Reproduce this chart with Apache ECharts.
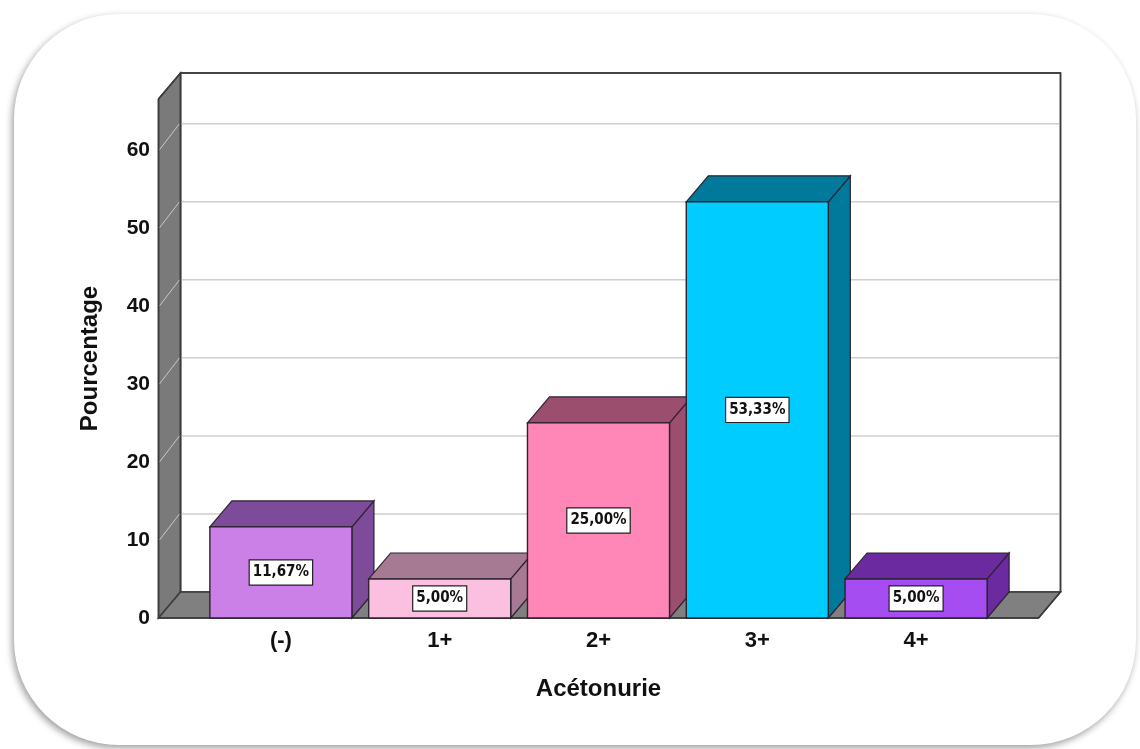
<!DOCTYPE html>
<html><head><meta charset="utf-8">
<script src="https://cdn.jsdelivr.net/npm/echarts@6/dist/echarts.min.js"></script>
<style>
html,body{margin:0;padding:0;background:#fff;width:1140px;height:749px;overflow:hidden;}
#frame{position:absolute;left:14px;top:14px;width:1122px;height:731px;border-radius:105px;background:#fff;box-shadow:-2px 3px 7px rgba(0,0,0,0.38);}
#chart{position:absolute;left:0;top:0;width:1140px;height:749px;}
</style></head><body>
<div id="frame"></div><div id="chart"></div>
<script>
// Categories and percentages
const categories = ['(-)', '1+', '2+', '3+', '4+'];
const percentages = [11.67, 5.00, 25.00, 53.33, 5.00];
const yTicks = [0, 10, 20, 30, 40, 50, 60];

// Palette: front face and shaded (top/side) face per bar
const frontColors = ['#cb80e8', '#fbc0e0', '#ff87b8', '#00ccff', '#a64df2'];
const shadeColors = ['#7d4b99', '#a57a92', '#9c4e6e', '#00799a', '#6b2aa0'];

// 3D depth offset and layout constants
const DX = 22, DY = -26;
const EXT = 43;            // walls extend past the category bands
const BAR_RATIO = 142 / 158.75;
const FONT = "'Liberation Sans', Arial, sans-serif";
const LABEL_FONT = "'Liberation Sans Narrow', 'DejaVu Sans Condensed', 'Liberation Sans', sans-serif";

function fmtPct(v) { return v.toFixed(2).replace('.', ',') + '%'; }

function renderWalls(params, api) {
  const cs = params.coordSys;
  const fl = cs.x - EXT, fr = cs.x + cs.width + EXT;
  const yTop = cs.y, yBase = cs.y + cs.height;
  const edge = '#3a3a3a';
  const children = [];
  // back wall
  children.push({type: 'polygon', shape: {points: [[fl + DX, yTop + DY], [fr + DX, yTop + DY], [fr + DX, yBase + DY], [fl + DX, yBase + DY]]},
    style: {fill: '#ffffff', stroke: edge, lineWidth: 1.5}});
  // left wall
  children.push({type: 'polygon', shape: {points: [[fl, yTop], [fl + DX, yTop + DY], [fl + DX, yBase + DY], [fl, yBase]]},
    style: {fill: '#7a7a7a', stroke: edge, lineWidth: 1.5}});
  // floor
  children.push({type: 'polygon', shape: {points: [[fl, yBase], [fl + DX, yBase + DY], [fr + DX, yBase + DY], [fr, yBase]]},
    style: {fill: '#808080', stroke: edge, lineWidth: 1.5}});
  // grid lines
  yTicks.forEach(function (t) {
    if (t === 0) return;
    const y = api.coord([0, t])[1];
    children.push({type: 'line', shape: {x1: fl + DX + 1, y1: y + DY, x2: fr + DX - 1, y2: y + DY}, style: {stroke: '#cfcfcf', lineWidth: 1.5}});
    children.push({type: 'line', shape: {x1: fl + 1, y1: y, x2: fl + DX - 1, y2: y + DY}, style: {stroke: '#c8c8c8', lineWidth: 1}});
  });
  // wall edges drawn over the grid lines
  children.push({type: 'polyline', shape: {points: [[fl, yTop], [fl + DX, yTop + DY], [fr + DX, yTop + DY], [fr + DX, yBase + DY], [fr, yBase], [fl, yBase], [fl, yTop]]},
    style: {fill: null, stroke: edge, lineWidth: 1.5}});
  children.push({type: 'line', shape: {x1: fl + DX, y1: yTop + DY, x2: fl + DX, y2: yBase + DY}, style: {stroke: edge, lineWidth: 1.5}});
  return {type: 'group', children: children};
}

function renderBar(params, api) {
  const i = api.value(0), v = api.value(1);
  const top = api.coord([i, v]);
  const base = api.coord([i, 0]);
  const band = api.size([1, 0])[0];
  const w = band * BAR_RATIO;
  const x0 = top[0] - w / 2, x1 = top[0] + w / 2, yT = top[1], yB = base[1];
  const front = frontColors[i], shade = shadeColors[i];
  const stroke = '#2b2330';
  return {type: 'group', children: [
    {type: 'polygon', shape: {points: [[x1, yT], [x1 + DX, yT + DY], [x1 + DX, yB + DY], [x1, yB]]}, style: {fill: shade, stroke: stroke, lineWidth: 1.2}},
    {type: 'polygon', shape: {points: [[x0, yT], [x0 + DX, yT + DY], [x1 + DX, yT + DY], [x1, yT]]}, style: {fill: shade, stroke: stroke, lineWidth: 1.2}},
    {type: 'rect', shape: {x: x0, y: yT, width: w, height: yB - yT}, style: {fill: front, stroke: stroke, lineWidth: 1.4}},
    {type: 'text', x: top[0], y: (yT + yB) / 2, style: {
      text: fmtPct(v), align: 'center', verticalAlign: 'middle',
      font: 'bold 15px ' + LABEL_FONT, fill: '#111',
      backgroundColor: '#ffffff', borderColor: '#222', borderWidth: 1.2, padding: [5, 3, 4, 3]
    }}
  ]};
}

const chart = echarts.init(document.getElementById('chart'), null, {renderer: 'canvas'});
chart.setOption({
  backgroundColor: 'transparent',
  animation: false,
  grid: {left: 201.5, right: 144.5, top: 99, bottom: 131, containLabel: false},
  xAxis: {
    type: 'category', data: categories, boundaryGap: true,
    axisLine: {show: false}, axisTick: {show: false}, splitLine: {show: false},
    axisLabel: {color: '#111', fontSize: 22, fontWeight: 'bold', fontFamily: FONT, margin: 12},
    name: 'Acétonurie', nameLocation: 'middle', nameGap: 59,
    nameTextStyle: {color: '#111', fontSize: 24, fontWeight: 'bold', fontFamily: FONT}
  },
  yAxis: {
    type: 'value', min: 0, max: 66.5, interval: 10, offset: 43.5,
    axisLine: {show: false}, axisTick: {show: false}, splitLine: {show: false},
    axisLabel: {color: '#111', fontSize: 21, fontWeight: 'bold', fontFamily: FONT, margin: 8,
      formatter: function (v) { return yTicks.indexOf(v) >= 0 ? String(v) : ''; }},
    name: 'Pourcentage', nameLocation: 'middle', nameGap: 56,
    nameTextStyle: {color: '#111', fontSize: 24, fontWeight: 'bold', fontFamily: FONT}
  },
  series: [
    {type: 'custom', renderItem: renderWalls, data: [[0, 0]], encode: {x: 0, y: 1}, z: 1, silent: true},
    {type: 'custom', renderItem: renderBar, data: percentages.map(function (v, i) { return [i, v]; }), encode: {x: 0, y: 1}, z: 2}
  ]
});
</script>
</body></html>
